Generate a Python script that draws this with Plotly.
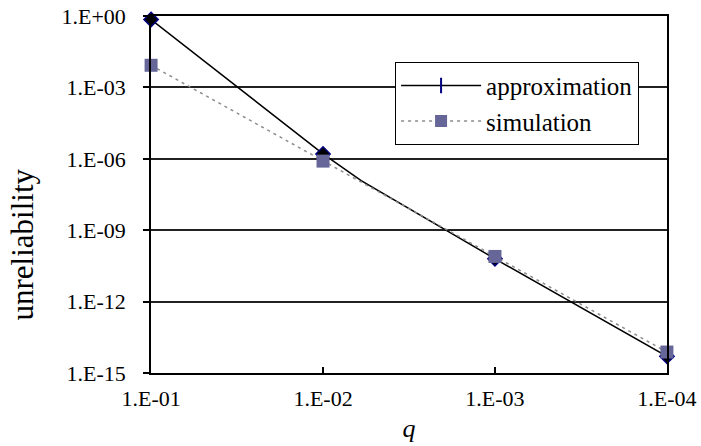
import plotly.graph_objects as go

# ---- data ----
q_decades = [1e-1, 1e-2, 1e-3, 1e-4]
approx_at_decades = [0.71, 1.6e-6, 6.3e-11, 5e-15]
q_approx_curve = [1e-1, 1e-2, 6e-3, 1e-3, 1e-4]
approx_curve = [0.71, 1.6e-6, 1.2e-7, 6.3e-11, 5e-15]
simulation = [8.5e-3, 8e-7, 7.9e-11, 7.6e-15]

x_tickvals = [1e-1, 1e-2, 1e-3, 1e-4]
x_ticktext = ["1.E-01", "1.E-02", "1.E-03", "1.E-04"]
y_tickvals = [1e0, 1e-3, 1e-6, 1e-9, 1e-12, 1e-15]
y_ticktext = ["1.E+00", "1.E-03", "1.E-06", "1.E-09", "1.E-12", "1.E-15"]

FONT = "Liberation Serif, Times New Roman, serif"
SQ = "#666699"

fig = go.Figure()

# approximation curve (line)
fig.add_trace(go.Scatter(
    x=q_approx_curve, y=approx_curve, mode="lines",
    line=dict(color="black", width=1.5), showlegend=False,
    hoverinfo="skip", cliponaxis=False))
# approximation markers
fig.add_trace(go.Scatter(
    x=q_decades, y=approx_at_decades, mode="markers",
    marker=dict(symbol="diamond", size=11, color="black",
                line=dict(color="#000080", width=1.5)),
    showlegend=False, cliponaxis=False))
# simulation
fig.add_trace(go.Scatter(
    x=q_decades, y=simulation, mode="lines+markers",
    line=dict(color="#8c8c8c", width=1.5, dash="3px,4px"),
    marker=dict(symbol="square", size=13, color=SQ, line=dict(color=SQ, width=0)),
    showlegend=False, cliponaxis=False))

# legend entries
fig.add_trace(go.Scatter(
    x=[None], y=[None], mode="lines+markers", name="approximation",
    legendgroup="a",
    line=dict(color="black", width=1.5),
    marker=dict(symbol="line-ns-open", size=11, color="#000080",
                line=dict(color="#000080", width=2))))
fig.add_trace(go.Scatter(
    x=[None], y=[None], mode="lines+markers", name="simulation",
    legendgroup="b",
    line=dict(color="#8c8c8c", width=1.5, dash="3px,4px"),
    marker=dict(symbol="square", size=12, color=SQ)))

fig.update_layout(
    width=701, height=446,
    margin=dict(l=151, r=34, t=16, b=73, autoexpand=False),
    paper_bgcolor="white", plot_bgcolor="white",
    font=dict(family=FONT, size=22, color="black"),
    showlegend=True,
    legend=dict(
        x=0.473, y=0.872, xanchor="left", yanchor="top",
        bgcolor="white", bordercolor="black", borderwidth=1,
        font=dict(family=FONT, size=25, color="black"),
        itemwidth=80, traceorder="grouped", tracegroupgap=0,
    ),
    xaxis=dict(
        type="log", range=[-0.9995, -4.0005], autorange=False, automargin=False,
        tickvals=x_tickvals, ticktext=x_ticktext,
        ticks="inside", ticklen=6, tickcolor="black", tickwidth=1.5,
        showline=True, linecolor="black", linewidth=1.5, mirror=True,
        showgrid=False, zeroline=False,
        ticklabelstandoff=5,
        title=dict(text="<i>q</i>", font=dict(family=FONT, size=26), standoff=9),
    ),
    yaxis=dict(
        type="log", range=[-15, 0], autorange=False, automargin=False,
        tickvals=y_tickvals, ticktext=y_ticktext,
        ticks="outside", ticklen=6, tickcolor="black", tickwidth=1.5,
        showline=True, linecolor="black", linewidth=1.5, mirror=True,
        showgrid=True, gridcolor="#222222", gridwidth=1.5, zeroline=False,
        ticklabelstandoff=13,
    ),
    annotations=[dict(
        text="unreliability", textangle=-90, showarrow=False,
        xref="paper", yref="paper", x=-0.25, y=0.36,
        xanchor="center", yanchor="middle",
        font=dict(family=FONT, size=31, color="black"),
    )],
)

fig.write_html("out.html", config={"displayModeBar": False},
               post_script="document.body.style.margin='0px';")
